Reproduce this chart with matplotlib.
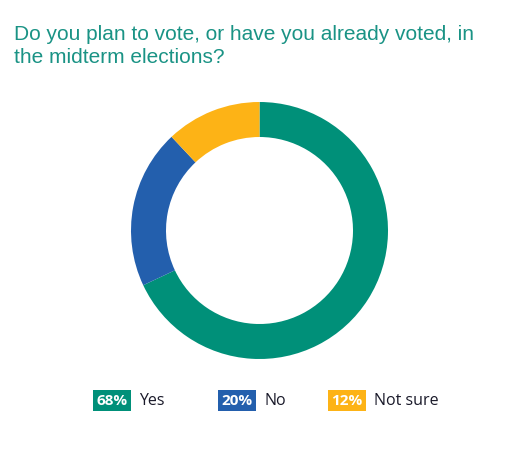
import matplotlib
matplotlib.use("Agg")
import matplotlib.pyplot as plt
from matplotlib.patches import Rectangle

title = "Do you plan to vote, or have you already voted, in\nthe midterm elections?"
categories = ["Yes", "No", "Not sure"]
values = [68, 20, 12]
colors = ["#009079", "#235FAD", "#FDB316"]

W, H = 505, 451
fig = plt.figure(figsize=(W / 100, H / 100), dpi=100)
fig.patch.set_facecolor("white")

# overlay axes in pixel coordinates for text and legend
bg = fig.add_axes([0, 0, 1, 1])
bg.set_xlim(0, W)
bg.set_ylim(H, 0)
bg.axis("off")

bg.text(14, 25, title, color="#1A9385", fontsize=15, family="Liberation Sans",
        va="top", ha="left", linespacing=1.28)

# donut
cx, cy, r = 259.5, 230.5, 128.5
pax = fig.add_axes([(cx - r) / W, 1 - (cy + r) / H, 2 * r / W, 2 * r / H])
pax.pie(values, colors=colors, startangle=90, counterclock=False, radius=1,
        wedgeprops=dict(width=35 / r, linewidth=0))
pax.set_xlim(-1, 1)
pax.set_ylim(-1, 1)
pax.axis("off")

# legend
box_x = [93, 218, 328]
box_w = 38
label_gap = 8
for x, v, c, lab in zip(box_x, values, colors, categories):
    bg.add_patch(Rectangle((x, 390), box_w, 21, facecolor=c, edgecolor="none"))
    bg.text(x + box_w / 2, 401, f"{v}%", color="white", fontsize=11, family="Open Sans",
            weight="bold", ha="center", va="center")
    bg.text(x + box_w + label_gap, 401, lab, color="#1a1a2a", fontsize=11.5,
            family="Open Sans", weight="medium", ha="left", va="center")

fig.savefig("out.png", dpi=100, facecolor="white")
